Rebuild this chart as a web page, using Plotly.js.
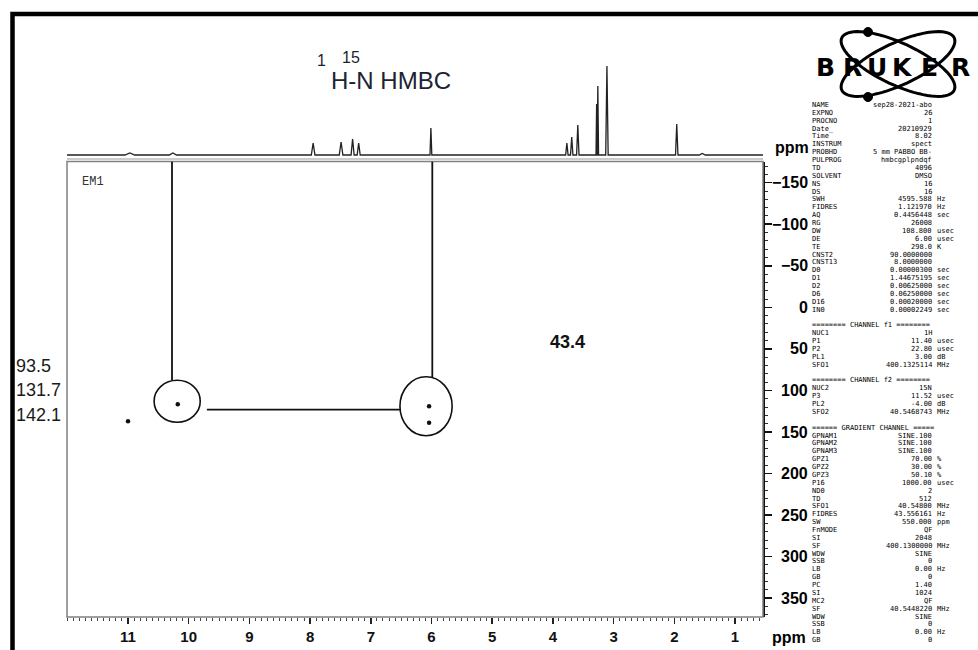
<!DOCTYPE html>
<html>
<head>
<meta charset="utf-8">
<script src="https://cdn.plot.ly/plotly-3.0.1.min.js"></script>
<style>html,body{margin:0;padding:0;background:#fff;}#chart{width:978px;height:650px;}</style>
</head>
<body>
<div id="chart"></div>
<script>
// ---------------- DATA ----------------
// 1H projection (F2 axis, ppm) : peak positions, relative heights, half widths (ppm)
const peakPpm    = [10.97, 10.26, 7.95, 7.49, 7.30, 7.20, 6.01, 3.77, 3.69, 3.59, 3.28, 3.26, 3.11, 1.96, 1.54];
const peakHeight = [2, 2, 12, 13, 16, 12, 27, 12, 18, 30, 51, 69, 89, 31, 1.5];
const peakHalfW  = [0.08, 0.06, 0.03, 0.03, 0.025, 0.025, 0.015, 0.02, 0.02, 0.02, 0.01, 0.012, 0.02, 0.02, 0.05];

// 2D cross peaks (1H ppm, 15N ppm)
const crossH = [10.18, 6.04, 6.04, 11.00];
const crossN = [116.6, 119.0, 139.0, 137.0];

// circled correlation groups (centre H, centre N, half width ppm, half height ppm)
const groupH  = [10.19, 6.09];
const groupN  = [113.0, 119.0];
const groupRH = [0.38, 0.43];
const groupRN = [25.2, 35.5];

// connector lines
const vlineH    = [10.275, 5.987];
const vlineEndN = [87.7, 84.0];
const hlineFromH = 9.70, hlineToH = 6.52, hlineN = 123.0;

// axes
const xRange = [12.005, 0.539];
const yRange = [372.6, -175.5];
const xTicks = [11, 10, 9, 8, 7, 6, 5, 4, 3, 2, 1];
const xTickLabels = ['11', '10', '9', '8', '7', '6', '5', '4', '3', '2', '1'];
const yTicks = [-150, -100, -50, 0, 50, 100, 150, 200, 250, 300, 350];
const yTickLabels = ['\u2212150', '\u2212100', '\u221250', '0', '50', '100', '150', '200', '250', '300', '350'];

// side labels
const sideLabels = ['93.5', '131.7', '142.1'];
const centerLabel = '43.4';

// acquisition parameter table
const paramNames = ['NAME','EXPNO','PROCNO','Date_','Time','INSTRUM','PROBHD','PULPROG','TD','SOLVENT','NS','DS','SWH','FIDRES','AQ','RG','DW','DE','TE','CNST2','CNST13','D0','D1','D2','D6','D16','IN0','',
 '======== CHANNEL f1 ========','NUC1','P1','P2','PL1','SFO1','',
 '======== CHANNEL f2 ========','NUC2','P3','PL2','SFO2','',
 '====== GRADIENT CHANNEL =====','GPNAM1','GPNAM2','GPNAM3','GPZ1','GPZ2','GPZ3','P16','ND0','TD','SFO1','FIDRES','SW','FnMODE','SI','SF','WDW','SSB','LB','GB','PC','SI','MC2','SF','WDW','SSB','LB','GB'];
const paramValues = ['sep28-2021-abo','26','1','20210929','8.02','spect','5 mm PABBO BB-','hmbcgplpndqf','4096','DMSO','16','16','4595.588','1.121970','0.4456448','26008','108.800','6.00','298.0','90.0000000','8.0000000','0.00000300','1.44675195','0.00625000','0.06250000','0.00020000','0.00002249','',
 '','1H','11.40','22.80','3.00','400.1325114','',
 '','15N','11.52','-4.00','40.5468743','',
 '','SINE.100','SINE.100','SINE.100','70.00','30.00','50.10','1000.00','2','512','40.54800','43.556161','550.000','QF','2048','400.1300000','SINE','0','0.00','0','1.40','1024','QF','40.5448220','SINE','0','0.00','0'];
const paramUnits = ['','','','','','','','','','','','','Hz','Hz','sec','','usec','usec','K','','','sec','sec','sec','sec','sec','sec','',
 '','','usec','usec','dB','MHz','',
 '','','usec','dB','MHz','',
 '','','','','%','%','%','usec','','','MHz','Hz','ppm','','','MHz','','','Hz','','','','','MHz','','','Hz',''];

// ---------------- BUILD ----------------
const W = 978, H = 650;
const px = x => x / W;
const py = y => 1 - y / H;

// spectrum trace from peak list
const specX = [xRange[0]], specY = [0];
for (let i = 0; i < peakPpm.length; i++) {
  specX.push(peakPpm[i] + peakHalfW[i], peakPpm[i], peakPpm[i] - peakHalfW[i]);
  specY.push(0, peakHeight[i], 0);
}
specX.push(xRange[1]); specY.push(0);

const traces = [
  {x: specX, y: specY, xaxis: 'x2', yaxis: 'y2', type: 'scatter', mode: 'lines',
   line: {color: '#222', width: 1.3}, hoverinfo: 'skip'},
  {x: crossH, y: crossN, xaxis: 'x', yaxis: 'y', type: 'scatter', mode: 'markers',
   marker: {size: 4.5, color: '#111'}, hoverinfo: 'x+y'}
];

const shapes = [];
// 2D frame
shapes.push({type: 'rect', xref: 'paper', yref: 'paper', x0: px(67), x1: px(763), y0: py(617), y1: py(161.5),
  line: {color: '#808080', width: 1.5}});
shapes.push({type: 'line', xref: 'paper', yref: 'paper', x0: px(67), x1: px(763), y0: py(159), y1: py(159),
  line: {color: '#9a9a9a', width: 1.2}});
// outer thick border
shapes.push({type: 'path', xref: 'paper', yref: 'paper',
  path: `M ${px(12.5)},${py(660)} L ${px(12.5)},${py(14)} L ${px(990)},${py(14)}`,
  line: {color: '#000', width: 4.5}});
// circles around correlation groups
for (let i = 0; i < groupH.length; i++) {
  shapes.push({type: 'circle', xref: 'x', yref: 'y',
    x0: groupH[i] - groupRH[i], x1: groupH[i] + groupRH[i],
    y0: groupN[i] - groupRN[i], y1: groupN[i] + groupRN[i],
    line: {color: '#111', width: 1.6}});
}
// vertical connectors
for (let i = 0; i < vlineH.length; i++) {
  shapes.push({type: 'line', xref: 'x', yref: 'y', x0: vlineH[i], x1: vlineH[i], y0: yRange[1], y1: vlineEndN[i],
    line: {color: '#111', width: 1.8}});
}
shapes.push({type: 'line', xref: 'x', yref: 'y', x0: hlineFromH, x1: hlineToH, y0: hlineN, y1: hlineN,
  line: {color: '#111', width: 1.8}});

// Bruker logo orbits
function ellipsePath(cx, cy, a, b, deg) {
  const th = deg * Math.PI / 180, n = 72;
  let d = '';
  for (let k = 0; k <= n; k++) {
    const t = 2 * Math.PI * k / n;
    const ex = a * Math.cos(t), ey = b * Math.sin(t);
    const X = cx + ex * Math.cos(th) - ey * Math.sin(th);
    const Y = cy + ex * Math.sin(th) + ey * Math.cos(th);
    d += (k === 0 ? 'M ' : ' L ') + px(X).toFixed(5) + ',' + py(Y).toFixed(5);
  }
  return d + ' Z';
}
shapes.push({type: 'path', xref: 'paper', yref: 'paper', path: ellipsePath(898, 64, 62, 21, 25), line: {color: '#000', width: 3}});
shapes.push({type: 'path', xref: 'paper', yref: 'paper', path: ellipsePath(898, 64, 62, 21, -25), line: {color: '#000', width: 3}});
[[868, 32], [868, 97]].forEach(([cx, cy]) => {
  shapes.push({type: 'circle', xref: 'paper', yref: 'paper', x0: px(cx - 4.5), x1: px(cx + 4.5), y0: py(cy + 4.5), y1: py(cy - 4.5),
    fillcolor: '#000', line: {color: '#000', width: 1}});
});

const ann = [];
const A = (o) => ann.push(Object.assign({showarrow: false, xref: 'paper', yref: 'paper', xanchor: 'center', yanchor: 'middle'}, o));

// title
A({x: px(321), y: py(61), text: '1', font: {family: 'Arial, Liberation Sans', size: 16, color: '#1c2433'}});
A({x: px(351), y: py(57), text: '15', font: {family: 'Arial, Liberation Sans', size: 16, color: '#1c2433'}});
A({x: px(391), y: py(80), text: 'H-N HMBC', font: {family: 'Arial, Liberation Sans', size: 24, color: '#1c2433'}});
// EM1
A({x: px(80), y: py(182), xanchor: 'left', text: 'EM1', font: {family: 'Liberation Mono, DejaVu Sans Mono', size: 12, color: '#333'}});
// centre label
A({x: px(567), y: py(342), text: centerLabel, font: {family: 'Arial, Liberation Sans', size: 18, color: '#111', weight: 'bold'}});
// left labels
sideLabels.forEach((t, i) => A({x: px(14), y: py(366 + i * 24.3), xanchor: 'left', text: t,
  font: {family: 'Arial, Liberation Sans', size: 18, color: '#1a1a1a'}}));
// y tick labels (right aligned)
yTicks.forEach((v, i) => ann.push({showarrow: false, xref: 'paper', yref: 'y', x: px(810), y: v, xanchor: 'right', yanchor: 'middle',
  text: yTickLabels[i], font: {family: 'Arial, Liberation Sans', size: 16, color: '#000', weight: 'bold'}}));
// ppm labels
A({x: px(792), y: py(148), text: 'ppm', font: {family: 'Arial, Liberation Sans', size: 16, color: '#000', weight: 'bold'}});
A({x: px(789), y: py(637), text: 'ppm', font: {family: 'Arial, Liberation Sans', size: 16, color: '#000', weight: 'bold'}});
// BRUKER letters
const brukerLetters = ['B', 'R', 'U', 'K', 'E', 'R'];
const brukerX = [825, 852, 877, 902, 929, 960];
brukerLetters.forEach((c, i) => A({x: px(brukerX[i]), y: py(68), text: c,
  font: {family: 'DejaVu Sans, Verdana', size: 25, color: '#000', weight: 'bold'}}));
// parameter table
const pFont = {family: 'DejaVu Sans Mono, Liberation Mono', size: 7, color: '#000'};
for (let i = 0; i < paramNames.length; i++) {
  const yy = py(105 + i * 7.87);
  if (paramNames[i]) A({x: px(811), y: yy, xanchor: 'left', text: paramNames[i], font: pFont, borderpad: 0});
  if (paramValues[i]) A({x: px(933), y: yy, xanchor: 'right', text: paramValues[i], font: pFont, borderpad: 0});
  if (paramUnits[i]) A({x: px(936), y: yy, xanchor: 'left', text: paramUnits[i], font: pFont, borderpad: 0});
}

const layout = {
  width: W, height: H,
  margin: {l: 0, r: 0, t: 0, b: 0},
  paper_bgcolor: '#fff', plot_bgcolor: 'rgba(0,0,0,0)',
  showlegend: false,
  xaxis: {
    domain: [px(67), px(763)], range: xRange, anchor: 'y',
    tickmode: 'array', tickvals: xTicks, ticktext: xTickLabels,
    ticks: 'outside', ticklen: 6, tickwidth: 1.5, tickcolor: '#222',
    tickfont: {family: 'Arial, Liberation Sans', size: 15, color: '#111', weight: 'bold'},
    minor: {dtick: 0.1, ticks: 'outside', ticklen: 2.5, tickwidth: 1, tickcolor: '#444'},
    showline: false, showgrid: false, zeroline: false
  },
  yaxis: {
    domain: [py(617), py(161.5)], range: yRange, anchor: 'x', side: 'right',
    tickmode: 'array', tickvals: yTicks, showticklabels: false,
    ticks: 'outside', ticklen: 7, tickwidth: 1.5, tickcolor: '#111',
    minor: {dtick: 10, ticks: 'outside', ticklen: 3, tickwidth: 1, tickcolor: '#333'},
    showline: true, linecolor: '#111', linewidth: 1.5, showgrid: false, zeroline: false
  },
  xaxis2: {domain: [px(67), px(763)], range: xRange, anchor: 'y2', visible: false},
  yaxis2: {domain: [py(158), py(60)], range: [-3, 95], anchor: 'x2', visible: false},
  shapes: shapes,
  annotations: ann
};

Plotly.newPlot('chart', traces, layout, {displayModeBar: false, staticPlot: true});
</script>
</body>
</html>
